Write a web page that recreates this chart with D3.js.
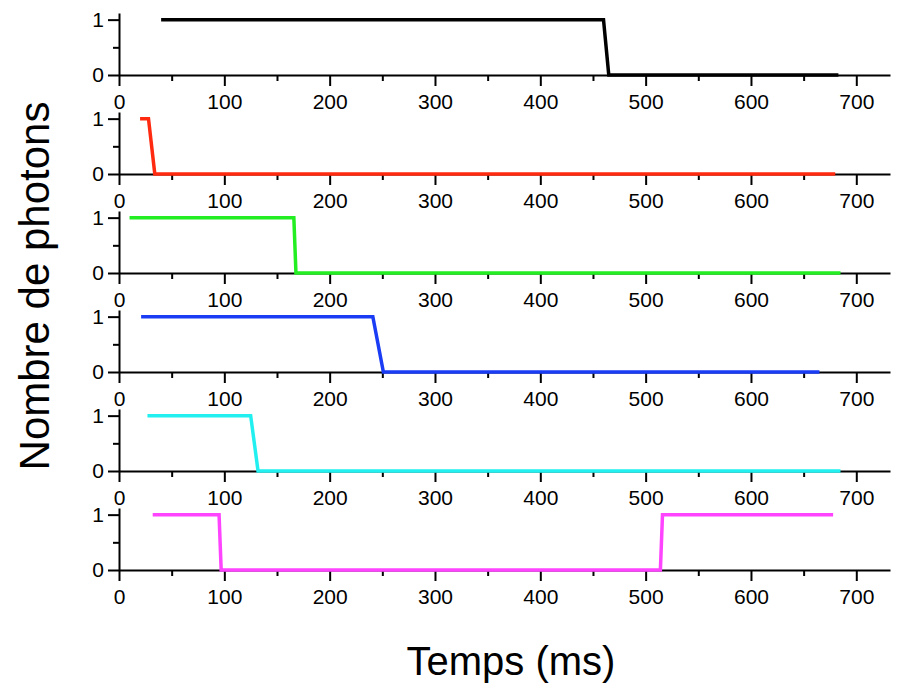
<!DOCTYPE html>
<html>
<meta charset="utf-8">
<head>
<style>
body { margin:0; padding:0; background:#fff; }
svg { display:block; }
.axis path, .axis line { stroke:#000; stroke-width:2px; }
.axis text { font-family:"Liberation Sans", Arial, sans-serif; font-size:21px; fill:#000; }
.title { font-family:"Liberation Sans", Arial, sans-serif; fill:#000; }
</style>
</head>
<body>
<svg></svg>
<script src="https://cdn.jsdelivr.net/npm/d3@7"></script>
<script>

var width = 898, height = 685;

// time (ms) / photon count pairs, one panel each, top to bottom
var tBlack   = [40, 460, 465, 683],      vBlack   = [1, 1, 0, 0];
var tRed     = [20, 28, 34, 680],        vRed     = [1, 1, 0, 0];
var tGreen   = [10, 166, 168, 685],      vGreen   = [1, 1, 0, 0];
var tBlue    = [21, 241, 251, 665],      vBlue    = [1, 1, 0, 0];
var tCyan    = [27, 125, 132, 685],      vCyan    = [1, 1, 0, 0];
var tMagenta = [32, 95, 97, 514, 516, 678], vMagenta = [1, 1, 0, 0, 1, 1];

var colors = ["#000000", "#ff2a10", "#22ee22", "#1a3cf5", "#22f0f0", "#ff44ff"];

var xTicks = [0, 100, 200, 300, 400, 500, 600, 700];
var xMinor = [50, 150, 250, 350, 450, 550, 650];
var yTicks = [0, 1];
var yMinor = [0.5];

var series = [
  [tBlack, vBlack], [tRed, vRed], [tGreen, vGreen],
  [tBlue, vBlue], [tCyan, vCyan], [tMagenta, vMagenta]
];

var svg = d3.select("svg")
  .attr("width", width)
  .attr("height", height);

var x = d3.scaleLinear().domain([0, 732]).range([119, 890]);

var line = d3.line()
  .x(function(d) { return x(d[0]); })
  .y(function(d) { return d.y; });

series.forEach(function(s, i) {
  var zero = 75 + 99 * i;
  var y = d3.scaleLinear().domain([0, 1.12]).range([zero, zero - 62]);
  var g = svg.append("g");

  // minor ticks first
  g.append("g").attr("class", "axis")
    .attr("transform", "translate(0," + zero + ")")
    .call(d3.axisBottom(x).tickValues(xMinor).tickSize(6).tickSizeOuter(0).tickFormat(""))
    .select(".domain").remove();
  g.append("g").attr("class", "axis")
    .attr("transform", "translate(119,0)")
    .call(d3.axisLeft(y).tickValues(yMinor).tickSize(6).tickSizeOuter(0).tickFormat(""))
    .select(".domain").remove();

  g.append("g").attr("class", "axis")
    .attr("transform", "translate(0," + zero + ")")
    .call(d3.axisBottom(x).tickValues(xTicks).tickSize(11).tickSizeOuter(0).tickPadding(8).tickFormat(d3.format("d")));
  g.append("g").attr("class", "axis")
    .attr("transform", "translate(119,0)")
    .call(d3.axisLeft(y).tickValues(yTicks).tickSize(11).tickSizeOuter(0).tickPadding(4).tickFormat(d3.format("d")));

  var pts = s[0].map(function(t, k) { var p = [t, s[1][k]]; p.y = y(s[1][k]); return p; });
  g.append("path")
    .datum(pts)
    .attr("fill", "none")
    .attr("stroke", colors[i])
    .attr("stroke-width", 3.5)
    .attr("stroke-linejoin", "miter")
    .attr("d", line);
});

svg.append("text").attr("class", "title")
  .attr("transform", "translate(49,286) rotate(-90)")
  .attr("text-anchor", "middle")
  .style("font-size", "42px")
  .text("Nombre de photons");

svg.append("text").attr("class", "title")
  .attr("x", 511).attr("y", 675)
  .attr("text-anchor", "middle")
  .style("font-size", "40px")
  .text("Temps (ms)");

</script>
</body>
</html>
